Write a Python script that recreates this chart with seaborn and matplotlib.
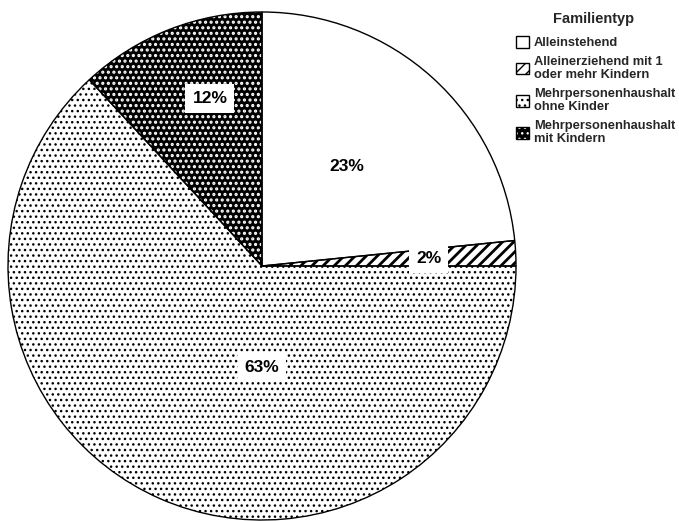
import matplotlib
matplotlib.use("Agg")
import matplotlib.pyplot as plt
from matplotlib import font_manager
from matplotlib.patches import Patch
from matplotlib.legend_handler import HandlerTuple
import seaborn as sns

# ---- data ----
categories = ["Alleinstehend", "Alleinerziehend mit 1\noder mehr Kindern",
              "Mehrpersonenhaushalt\nohne Kinder", "Mehrpersonenhaushalt\nmit Kindern"]
shares = [23.4, 1.6, 63.1, 11.9]
pct_labels = ["23%", "2%", "63%", "12%"]
legend_title = "Familientyp"

# ---- style ----
hatches = ["", "///", "...", "..."]
hatch_lw = [1.0, 2.0, 1.0, 1.5]
faces = ["white", "white", "white", "black"]
hatch_colors = ["black", "black", "black", "white"]
label_xy = [(0.335, 0.39), (0.657, 0.031), (0.0, -0.40), (-0.205, 0.661)]

sns.set_theme(style="white")
plt.rcParams["font.family"] = ["Liberation Sans", "DejaVu Sans"]
plt.rcParams["hatch.linewidth"] = 1.0

installed = {f.name for f in font_manager.fontManager.ttflist}
narrow = "Liberation Sans Narrow" in installed


def set_hlw(p, lw):
    if hasattr(p, "set_hatch_linewidth"):
        p.set_hatch_linewidth(lw)
    else:
        p._hatch_linewidth = lw


W, H = 679, 521
fig = plt.figure(figsize=(W / 100, H / 100), dpi=100)
cx, cy, R = 262, 266, 254
ax = fig.add_axes([(cx - R) / W, (H - cy - R) / H, 2 * R / W, 2 * R / H])

# filled + hatched wedges (hatch colour = edgecolor), no outline
wedges, _ = ax.pie(shares, startangle=90, counterclock=False, radius=1,
                   colors=faces, wedgeprops=dict(linewidth=0))
for w, h, hc, lw in zip(wedges, hatches, hatch_colors, hatch_lw):
    w.set_edgecolor(hc)
    w.set_hatch(h)
    w.set_linewidth(0)
    set_hlw(w, lw)
# outlines
ax.pie(shares, startangle=90, counterclock=False, radius=1,
       colors=["none"] * len(shares),
       wedgeprops=dict(linewidth=1.0, edgecolor="black", fill=False))

for (x, y), t, h in zip(label_xy, pct_labels, hatches):
    bb = None if h == "" else dict(boxstyle="square,pad=0.4", fc="white", ec="none")
    ax.text(x, y, t, ha="center", va="center", fontsize=12.5, fontweight="bold",
            color="black", bbox=bb)

ax.set_xlim(-1, 1)
ax.set_ylim(-1, 1)
ax.set_aspect("auto")
ax.axis("off")

handles = []
for f, h, hc, lw in zip(faces, hatches, hatch_colors, hatch_lw):
    p1 = Patch(facecolor=f, edgecolor=hc, hatch=h, linewidth=0)
    set_hlw(p1, lw)
    p2 = Patch(facecolor="none", edgecolor="black", linewidth=1.0)
    handles.append((p1, p2))

leg = fig.legend(handles, categories,
                 loc="upper left", bbox_to_anchor=(516 / W, 1 - 36 / H),
                 frameon=False, handler_map={tuple: HandlerTuple(ndivide=1, pad=0)},
                 prop=dict(weight="bold", size=9.3),
                 handlelength=1.0, handleheight=1.0, handletextpad=0.4,
                 labelspacing=0.53, borderpad=0, borderaxespad=0)
for t in leg.get_texts():
    t.set_linespacing(1.13)

if narrow:
    fig.text(594 / W, 1 - 23 / H, legend_title, ha="center", va="baseline",
             fontsize=12.4, fontweight="bold", family=["Liberation Sans Narrow"])
else:
    fig.text(594 / W, 1 - 23 / H, legend_title, ha="center", va="baseline",
             fontsize=10.5, fontweight="bold")

fig.savefig("out.png", dpi=100)
